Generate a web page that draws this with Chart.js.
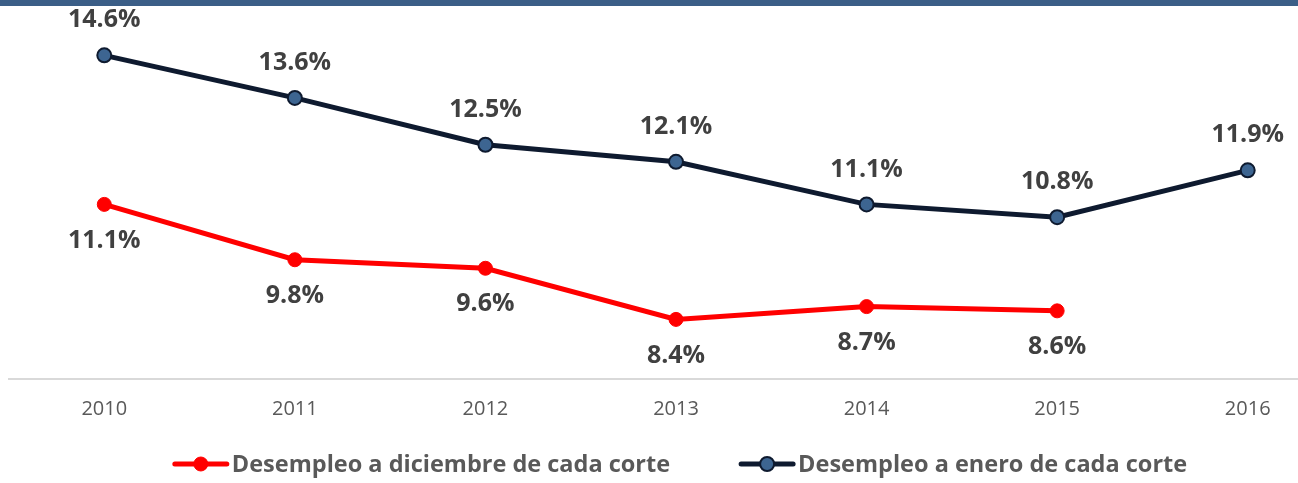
<!DOCTYPE html>
<html>
<head>
<meta charset="utf-8">
<script src="https://cdn.jsdelivr.net/npm/chart.js@4"></script>
<style>
  html, body { margin: 0; padding: 0; background: #fff; overflow: hidden; }
  #wrap { position: relative; width: 1298px; height: 483px; overflow: hidden; }
  #topbar { position: absolute; left: 0; top: 0; width: 100%; height: 6px; background: #3b5e87; z-index: 2; }
  #chart { position: absolute; left: 0; top: 0; }
</style>
</head>
<body>
<div id="wrap">
  <div id="topbar"></div>
  <canvas id="chart" width="1352" height="483"></canvas>
</div>
<script>
const years      = ['2010', '2011', '2012', '2013', '2014', '2015', '2016'];
const diciembre  = [11.1, 9.8, 9.6, 8.4, 8.7, 8.6, null];
const enero      = [14.6, 13.6, 12.5, 12.1, 11.1, 10.8, 11.9];
const labelNames = ['Desempleo a diciembre de cada corte', 'Desempleo a enero de cada corte'];

const FONT = "'Open Sans', 'Liberation Sans', sans-serif";

// value labels: red ones under the point, navy ones above
const valueLabels = {
  id: 'valueLabels',
  afterDatasetsDraw(chart) {
    const ctx = chart.ctx;
    ctx.save();
    ctx.font = 'bold 25px ' + FONT;
    ctx.fillStyle = '#404040';
    ctx.textAlign = 'center';
    ctx.textBaseline = 'middle';
    chart.data.datasets.forEach((ds, i) => {
      const meta = chart.getDatasetMeta(i);
      const dy = i === 0 ? 36 : -35;
      meta.data.forEach((pt, j) => {
        const v = ds.data[j];
        if (v === null || v === undefined) return;
        ctx.fillText(v.toFixed(1) + '%', pt.x, pt.y + dy);
      });
    });
    ctx.restore();
  }
};

// Excel-style legend: line with marker, then bold text
const lineLegend = {
  id: 'lineLegend',
  afterDraw(chart) {
    const ctx = chart.ctx;
    const iconW = 56, gap = 3, spacing = 69, cy = 464, centerX = 680;
    ctx.save();
    ctx.font = 'bold 23.5px ' + FONT;
    const widths = chart.data.datasets.map(ds => ctx.measureText(ds.label).width);
    const total = widths.reduce((a, w) => a + iconW + gap + w, 0) + spacing * (widths.length - 1);
    let x = centerX - total / 2;
    chart.data.datasets.forEach((ds, i) => {
      ctx.strokeStyle = ds.borderColor;
      ctx.lineWidth = ds.borderWidth;
      ctx.lineCap = 'round';
      ctx.beginPath();
      ctx.moveTo(x + 2, cy);
      ctx.lineTo(x + iconW - 2, cy);
      ctx.stroke();
      ctx.beginPath();
      ctx.arc(x + iconW / 2, cy, ds.pointRadius, 0, Math.PI * 2);
      ctx.fillStyle = ds.pointBackgroundColor;
      ctx.fill();
      ctx.lineWidth = ds.pointBorderWidth;
      ctx.strokeStyle = ds.pointBorderColor;
      ctx.stroke();
      ctx.fillStyle = '#595959';
      ctx.textAlign = 'left';
      ctx.textBaseline = 'middle';
      ctx.fillText(ds.label, x + iconW + gap, cy + 1);
      x += iconW + gap + widths[i] + spacing;
    });
    ctx.restore();
  }
};

new Chart(document.getElementById('chart'), {
  type: 'line',
  data: {
    labels: years,
    datasets: [
      {
        label: labelNames[0],
        data: diciembre,
        borderColor: '#ff0000',
        borderWidth: 5,
        pointRadius: 7,
        pointBackgroundColor: '#ff0000',
        pointBorderColor: '#ff0000',
        pointBorderWidth: 1,
        tension: 0,
      },
      {
        label: labelNames[1],
        data: enero,
        borderColor: '#0e1a2f',
        borderWidth: 5,
        pointRadius: 7,
        pointBackgroundColor: '#3d6591',
        pointBorderColor: '#0e1a2f',
        pointBorderWidth: 2,
        tension: 0,
      }
    ]
  },
  options: {
    responsive: false,
    animation: false,
    devicePixelRatio: 1,
    layout: { padding: { top: 17, left: 6, right: 6, bottom: 44 } },
    plugins: {
      legend: { display: false },
      tooltip: { enabled: false },
    },
    scales: {
      x: {
        offset: true,
        grid: { display: false, drawTicks: false },
        border: { display: true, color: '#d9d9d9', width: 2 },
        ticks: { color: '#595959', font: { family: FONT, size: 20 }, padding: 18 },
      },
      y: {
        display: false,
        min: 7,
        max: 15.5,
      }
    }
  },
  plugins: [valueLabels, lineLegend]
});
</script>
</body>
</html>
